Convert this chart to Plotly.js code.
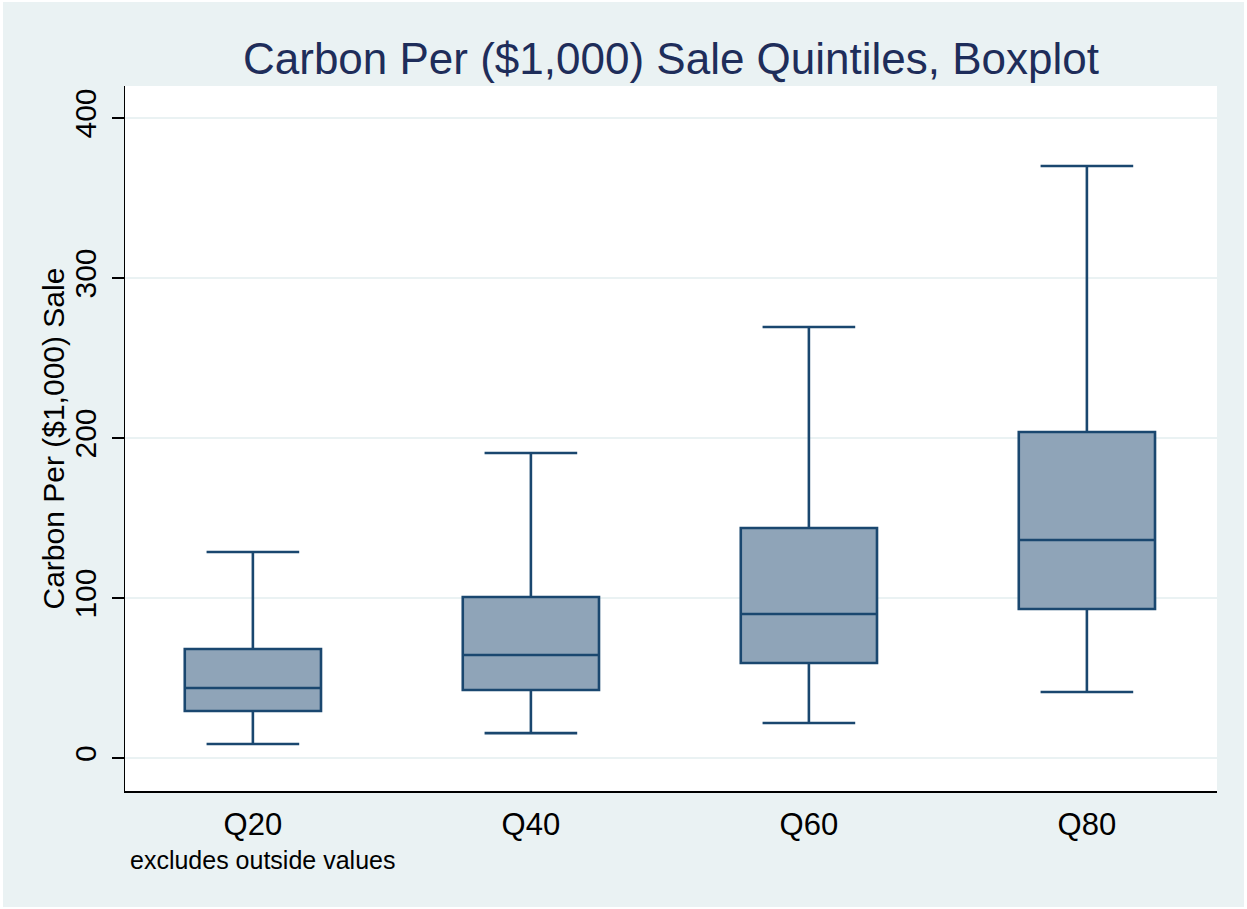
<!DOCTYPE html>
<html>
<head>
<meta charset="utf-8">
<script src="https://cdn.plot.ly/plotly-3.0.1.min.js"></script>
<style>
html,body{margin:0;padding:0;background:#ffffff;}
#chart{position:absolute;left:3px;top:2px;width:1241px;height:905px;}
</style>
</head>
<body>
<div id="chart"></div>
<script>
const categories = ["Q20", "Q40", "Q60", "Q80"];
const lowerWhisker = [8.8, 15.6, 21.9, 41.3];
const q1Values = [29.4, 42.5, 59.4, 93.1];
const medianValues = [43.8, 64.4, 90.0, 136.3];
const q3Values = [68.1, 100.6, 143.8, 203.8];
const upperWhisker = [128.8, 190.6, 269.4, 370.0];
const yTicks = [0, 100, 200, 300, 400];

const navy = "#1a476f";
const font = "Liberation Sans, Arial, sans-serif";

const trace = {
  type: "box",
  x: categories,
  q1: q1Values,
  median: medianValues,
  q3: q3Values,
  lowerfence: lowerWhisker,
  upperfence: upperWhisker,
  width: 0.49,
  whiskerwidth: 0.68,
  fillcolor: "#8fa4b8",
  line: {color: navy, width: 2.6},
  boxpoints: false,
  hoverinfo: "skip",
  showlegend: false
};

const layout = {
  width: 1241,
  height: 905,
  paper_bgcolor: "#eaf2f3",
  plot_bgcolor: "#ffffff",
  margin: {l: 122, r: 27, t: 84, b: 116},
  title: {
    text: "Carbon Per ($1,000) Sale Quintiles, Boxplot",
    font: {family: font, size: 44, color: "#1e2d5a"},
    x: 0.5, xref: "paper", xanchor: "center",
    y: 0.938, yref: "container", yanchor: "middle"
  },
  xaxis: {
    type: "category",
    range: [-0.46, 3.468],
    showgrid: false,
    showline: true,
    linecolor: "#000000",
    linewidth: 1.5,
    ticks: "",
    tickfont: {family: font, size: 31, color: "#000000"},
    ticklabelstandoff: 5,
    zeroline: false
  },
  yaxis: {
    range: [-20.6, 420],
    tickvals: yTicks,
    ticktext: yTicks.map(String),
    tickangle: -90,
    showgrid: true,
    gridcolor: "#eaf2f3",
    gridwidth: 1.6,
    zeroline: false,
    showline: true,
    linecolor: "#000000",
    linewidth: 1.5,
    ticks: "outside",
    ticklen: 12,
    tickwidth: 1.5,
    tickcolor: "#000000",
    ticklabelstandoff: 4,
    tickfont: {family: font, size: 30, color: "#000000"}
  },
  annotations: [{
    text: "excludes outside values",
    xref: "paper", yref: "paper",
    x: 0, y: -0.098,
    xanchor: "left", yanchor: "middle",
    xshift: 3,
    showarrow: false,
    font: {family: font, size: 25, color: "#000000"}
  }, {
    text: "Carbon Per ($1,000) Sale",
    xref: "paper", yref: "paper",
    x: 0, y: 0.5,
    xanchor: "center", yanchor: "middle",
    xshift: -72,
    textangle: -90,
    showarrow: false,
    font: {family: font, size: 30, color: "#000000"}
  }]
};

Plotly.newPlot("chart", [trace], layout, {displayModeBar: false, staticPlot: true});
</script>
</body>
</html>
